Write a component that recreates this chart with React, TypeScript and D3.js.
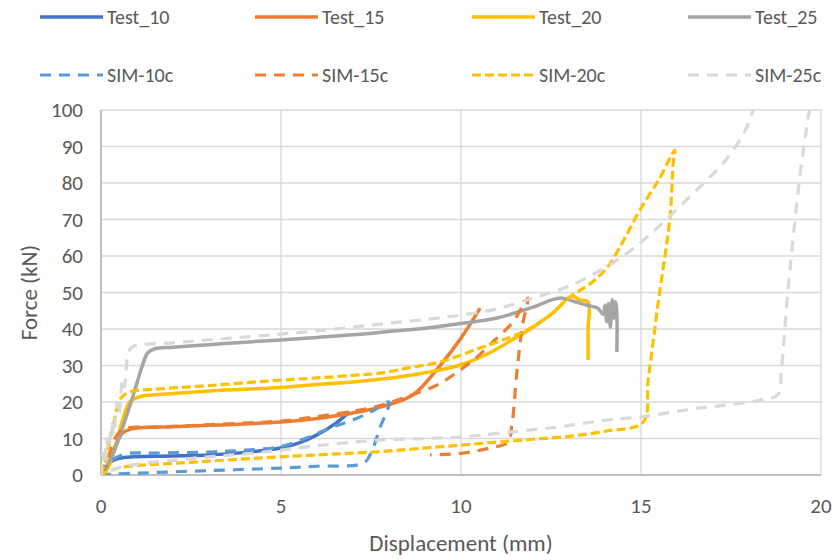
import { useEffect, useRef } from "react";
import * as d3 from "d3";

type Pt = [number, number];

// displacement (mm), force (kN)
const test10: Pt[] = [
  [0, 0], [0.15, 2], [0.3, 3.8], [0.5, 4.6], [0.9, 5], [2, 5.2], [3, 5.5],
  [4, 6.2], [5, 7.4], [5.5, 8.8], [6, 11], [6.5, 14], [6.9, 17.3],
];
const test15: Pt[] = [
  [0, 0], [0.2, 3], [0.4, 8], [0.6, 11.5], [0.9, 12.7], [2, 13.2], [3, 13.6],
  [4, 14], [5, 14.5], [6, 15.5], [7, 17], [7.75, 18.6], [8.67, 22], [9.42, 30],
  [10, 37.5], [10.53, 45.7],
];
const test20: Pt[] = [
  [0, 0], [0.2, 2], [0.4, 8], [0.6, 15], [0.8, 20], [1.1, 21.5], [2, 22.3],
  [3, 23], [4, 23.5], [5, 24], [6, 24.8], [7, 25.5], [8, 26.5], [9, 28],
  [10, 30.2], [10.8, 33.5], [11.5, 37.5], [12, 40.5], [12.56, 44.5],
  [12.97, 48.4], [13.1, 49], [13.3, 48], [13.53, 47.4], [13.53, 40], [13.53, 31.5],
];
const test25: Pt[] = [
  [0, 0], [0.3, 5], [0.6, 13], [0.9, 22], [1.15, 30], [1.3, 33.5], [1.5, 34.6],
  [2, 35], [3, 35.7], [4, 36.4], [5, 37], [6, 37.7], [7, 38.4], [8, 39.3],
  [9, 40.2], [10, 41.5], [11, 43], [12, 46], [12.75, 48.5], [13.2, 47.4],
  [13.5, 46.5], [13.8, 45.7], [13.95, 44], [14.0, 46.5], [14.05, 42],
  [14.1, 47], [14.15, 40.5], [14.2, 48], [14.25, 43], [14.3, 47.5],
  [14.33, 44], [14.33, 33.7],
];
const sim10: Pt[] = [
  [0, 0], [0.3, 4], [0.7, 5.8], [1.5, 6], [3, 6.3], [4, 6.8], [5, 7.8],
  [5.8, 10.5], [6.4, 13], [6.9, 14.7], [7.5, 17.3], [8.0, 20], [7.75, 13],
  [7.5, 6], [7.3, 3.3], [6, 2.4], [5, 1.9], [3, 1.2], [1, 0.5], [0.3, 0.2], [0, 0],
];
const sim15: Pt[] = [
  [0, 0], [0.2, 5], [0.45, 11], [0.7, 12.8], [1.5, 13.1], [3, 13.8], [5, 14.8],
  [6, 16], [7, 17.5], [7.75, 19], [8.5, 21.5], [9.3, 24.5], [9.9, 28.2],
  [10.44, 32.3], [10.94, 37], [11.45, 42], [11.86, 48.5], [11.72, 41.6],
  [11.55, 28], [11.42, 14.2], [11.3, 9], [10.8, 7.4], [10.06, 6], [9.14, 5.5],
];
const sim20: Pt[] = [
  [0, 0], [0.15, 5], [0.35, 14], [0.55, 21], [0.8, 22.8], [1.5, 23.5],
  [3, 24.5], [5, 26], [6, 26.6], [7, 27.3], [7.75, 27.9], [8.5, 29.3],
  [9.42, 31], [10.53, 34.8], [11.3, 37.5], [11.83, 39.7], [12.5, 44],
  [13.03, 48.8], [13.6, 52.5], [14.05, 56.7], [14.5, 64], [14.97, 72.6],
  [15.5, 81], [15.94, 89], [15.9, 86], [15.8, 70], [15.5, 48.8], [15.2, 26],
  [15.06, 14.5], [14, 12], [13, 10.6], [12, 9.8], [11, 9], [10, 8.2], [9, 7.4],
  [8, 6.6], [7, 6], [6, 5.5], [5, 5], [4, 4.4], [3, 3.8], [2, 3.2], [1, 2.6],
  [0.5, 2], [0.2, 1], [0, 0],
];
const sim25: Pt[] = [
  [0, 0], [0.05, 6], [0.1, 3], [0.15, 10], [0.2, 7], [0.3, 14], [0.35, 11],
  [0.45, 20], [0.5, 17], [0.6, 26], [0.65, 24], [0.75, 33], [0.85, 35],
  [2, 36.2], [3, 37], [4, 37.8], [5, 38.6], [6, 39.5], [7, 40.5], [8, 41.6],
  [9, 42.6], [10, 43.8], [11, 45.5], [12, 48.5], [12.94, 51.5], [13.86, 56],
  [14.5, 60], [14.97, 63.5], [15.7, 70], [16.64, 79], [17.2, 84.5],
  [17.56, 89], [17.9, 94.5], [18.1, 99.5], [18.4, 105], [19, 108],
  [19.7, 104], [19.64, 97.8], [19.55, 91.8], [19.4, 80.8], [19.2, 62.5],
  [19.05, 47], [18.9, 28.8], [18.8, 22], [18.3, 20.5], [17.5, 19.3],
  [16.64, 18.4], [15.06, 16], [14, 15], [12.75, 13.2], [11.08, 11.5],
  [10, 10.4], [9, 10], [7.78, 9.6], [6, 8], [5, 6.8], [4, 5.8], [3, 5],
  [2, 4], [1, 3], [0.5, 2], [0, 0],
];

const xTicks = [0, 5, 10, 15, 20];
const yTicks = [0, 10, 20, 30, 40, 50, 60, 70, 80, 90, 100];

interface Series {
  name: string;
  data: Pt[];
  color: string;
  dash?: string;
  width: number;
}

const series: Series[] = [
  { name: "Test_10", data: test10, color: "#4472C4", width: 3.5 },
  { name: "Test_15", data: test15, color: "#ED7D31", width: 3.5 },
  { name: "Test_20", data: test20, color: "#FFC000", width: 3.5 },
  { name: "Test_25", data: test25, color: "#A5A5A5", width: 3.5 },
  { name: "SIM-10c", data: sim10, color: "#5B9BD5", dash: "11,8", width: 3.2 },
  { name: "SIM-15c", data: sim15, color: "#ED7D31", dash: "11,8", width: 3.2 },
  { name: "SIM-20c", data: sim20, color: "#FFC000", dash: "9,4", width: 3.2 },
  { name: "SIM-25c", data: sim25, color: "#D9D9D9", dash: "11,8", width: 3.2 },
];

const FONT = "Carlito, Calibri, Lato, sans-serif";
const TEXT = "#595959";

export default function App() {
  const svgRef = useRef<SVGSVGElement>(null);

  useEffect(() => {
    const W = 835, H = 560;
    const m = { left: 101, right: 14, top: 110, bottom: 85 };
    const svg = d3.select(svgRef.current).attr("width", W).attr("height", H);
    svg.selectAll("*").remove();

    const x = d3.scaleLinear().domain([0, 20]).range([m.left, W - m.right]);
    const y = d3.scaleLinear().domain([0, 100]).range([H - m.bottom, m.top]);

    svg.append("rect").attr("width", W).attr("height", H).attr("fill", "#fff");

    // gridlines
    const grid = svg.append("g").attr("stroke", "#D9D9D9").attr("stroke-width", 1.3);
    grid.selectAll("line.h").data(yTicks).join("line")
      .attr("x1", x(0)).attr("x2", x(20))
      .attr("y1", (d) => y(d)).attr("y2", (d) => y(d));
    grid.selectAll("line.v").data(xTicks).join("line")
      .attr("x1", (d) => x(d)).attr("x2", (d) => x(d))
      .attr("y1", y(0)).attr("y2", y(100));

    // axis lines
    svg.append("line").attr("x1", x(0)).attr("x2", x(20))
      .attr("y1", y(0)).attr("y2", y(0))
      .attr("stroke", "#BFBFBF").attr("stroke-width", 2);
    svg.append("line").attr("x1", x(0)).attr("x2", x(0))
      .attr("y1", y(0)).attr("y2", y(100))
      .attr("stroke", "#BFBFBF").attr("stroke-width", 2);

    // tick labels
    svg.append("g").selectAll("text").data(yTicks).join("text")
      .attr("x", 83).attr("y", (d) => y(d)).attr("dy", "0.35em")
      .attr("text-anchor", "end").attr("font-family", FONT)
      .attr("font-size", 21).attr("fill", TEXT).text((d) => d);
    svg.append("g").selectAll("text").data(xTicks).join("text")
      .attr("x", (d) => x(d)).attr("y", 513)
      .attr("text-anchor", "middle").attr("font-family", FONT)
      .attr("font-size", 21).attr("fill", TEXT).text((d) => d);

    // axis titles
    svg.append("text").attr("x", 461).attr("y", 551)
      .attr("text-anchor", "middle").attr("font-family", FONT)
      .attr("font-size", 23).attr("fill", TEXT).text("Displacement (mm)");
    svg.append("text")
      .attr("transform", `translate(37,${y(50)}) rotate(-90)`)
      .attr("text-anchor", "middle").attr("font-family", FONT)
      .attr("font-size", 23).attr("fill", TEXT).text("Force (kN)");

    // series, clipped to the plot area
    svg.append("clipPath").attr("id", "plot-clip").append("rect")
      .attr("x", x(0)).attr("y", y(100))
      .attr("width", x(20) - x(0)).attr("height", y(0) - y(100));

    const line = d3.line<Pt>()
      .x((d) => x(d[0])).y((d) => y(d[1]))
      .curve(d3.curveCatmullRom.alpha(0.5));

    const plot = svg.append("g").attr("clip-path", "url(#plot-clip)");
    plot.selectAll("path").data(series).join("path")
      .attr("d", (s) => line(s.data))
      .attr("fill", "none")
      .attr("stroke", (s) => s.color)
      .attr("stroke-width", (s) => s.width)
      .attr("stroke-dasharray", (s) => s.dash ?? null)
      .attr("stroke-linejoin", "round");

    // legend: two rows of four
    const legX = [40, 255, 472, 688];
    const legY = [17, 75];
    const leg = svg.append("g").selectAll("g").data(series).join("g")
      .attr("transform", (_, i) => `translate(${legX[i % 4]},${legY[Math.floor(i / 4)]})`);
    leg.append("line").attr("x1", 0).attr("x2", 63)
      .attr("stroke", (s) => s.color)
      .attr("stroke-width", (s) => s.width)
      .attr("stroke-dasharray", (s) => s.dash ?? null);
    leg.append("text").attr("x", 67).attr("dy", "0.35em")
      .attr("font-family", FONT).attr("font-size", 20).attr("fill", TEXT)
      .text((s) => s.name);
  }, []);

  return (
    <div style={{ position: "absolute", left: 0, top: 0 }}>
      <svg ref={svgRef} role="img" aria-label="Force-displacement chart" />
    </div>
  );
}
